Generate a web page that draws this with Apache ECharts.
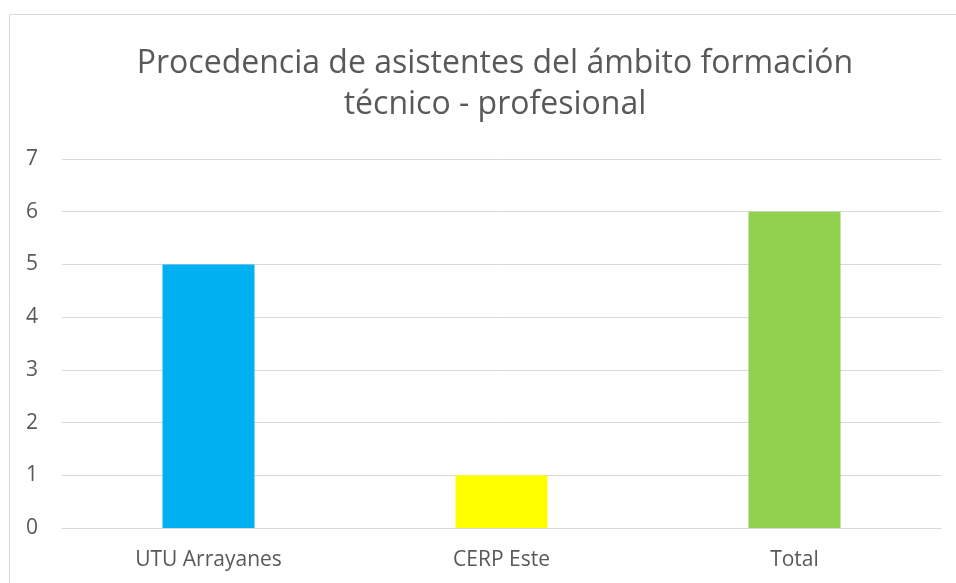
<!DOCTYPE html>
<html>
<head>
<meta charset="utf-8">
<script src="https://cdn.jsdelivr.net/npm/echarts@6/dist/echarts.min.js"></script>
<style>
  html, body { margin: 0; padding: 0; background: #fff; }
  #chart { width: 956px; height: 583px; }
</style>
</head>
<body>
<div id="chart"></div>
<script>
const categories = ['UTU Arrayanes', 'CERP Este', 'Total'];
const values = [5, 1, 6];
const barColors = ['#00B0F0', '#FFFF00', '#92D050'];
const titleText = 'Procedencia de asistentes del ámbito formación\ntécnico - profesional';

const chart = echarts.init(document.getElementById('chart'));
const textColor = '#595959';
const font = 'Open Sans';

const option = {
  animation: false,
  graphic: [{
    type: 'rect',
    shape: { x: 9.5, y: 14.5, width: 960, height: 600 },
    style: { fill: 'none', stroke: '#d9d9d9', lineWidth: 1 },
    silent: true
  }],
  title: {
    text: titleText,
    left: 490,
    top: 38,
    textAlign: 'center',
    textStyle: {
      fontFamily: font,
      fontWeight: 'normal',
      fontSize: 32,
      color: textColor,
      lineHeight: 41
    }
  },
  grid: { left: 62, right: 15, top: 159, bottom: 55 },
  xAxis: {
    type: 'category',
    data: categories,
    axisLine: { lineStyle: { color: '#d9d9d9', width: 1 } },
    axisTick: { show: false },
    axisLabel: { color: textColor, fontSize: 21, fontFamily: font, margin: 22 }
  },
  yAxis: {
    type: 'value',
    min: 0,
    max: 7,
    interval: 1,
    axisLine: { show: false },
    axisTick: { show: false },
    splitLine: { lineStyle: { color: '#d9d9d9', width: 1 } },
    axisLabel: { color: textColor, fontSize: 21, fontFamily: font, margin: 24 }
  },
  series: [{
    type: 'bar',
    data: values.map((v, i) => ({ value: v, itemStyle: { color: barColors[i] } })),
    barWidth: '31.4%'
  }]
};

chart.setOption(option);
</script>
</body>
</html>
